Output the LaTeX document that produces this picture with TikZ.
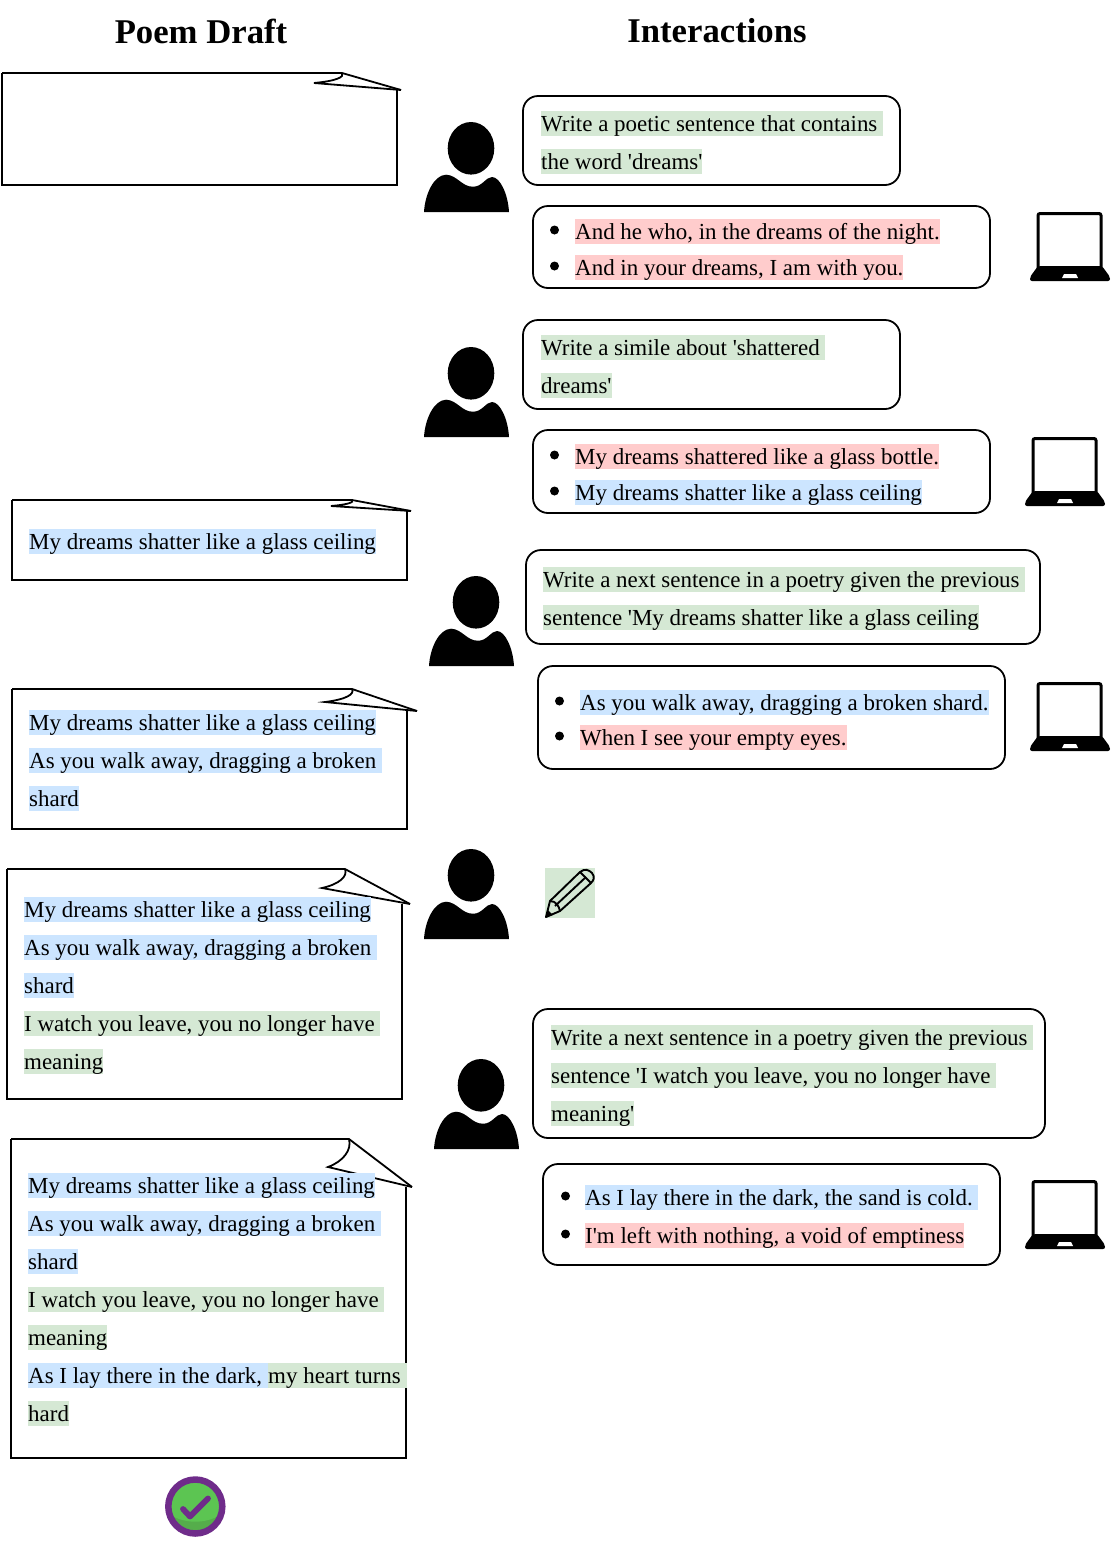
\documentclass[tikz,border=0pt]{standalone}
\usepackage{fontspec}
\setmainfont{Liberation Serif}[Ligatures=TeXOff]
\usepackage{tikz}
\definecolor{hlgreen}{HTML}{D5E8D4}
\definecolor{hlblue}{HTML}{CCE5FF}
\definecolor{hlred}{HTML}{FFCCCC}
\definecolor{tickpurple}{HTML}{6F2C8A}
\definecolor{ticklight}{HTML}{5CC552}
\definecolor{tickdark}{HTML}{55AD4B}
\tikzset{
  linetext/.style={anchor=base west,inner sep=0pt,text height=19.8pt,text depth=4.9pt,font=\fontsize{22.95}{23}\selectfont},
  greenline/.style={linetext,fill=hlgreen},
  blueline/.style={linetext,fill=hlblue},
  redline/.style={linetext,fill=hlred},
  heading/.style={font=\fontsize{34.7}{35}\selectfont\bfseries},
  bubble/.style={draw,line width=1.8pt,rounded corners=15pt},
  page/.style={draw,line width=1.8pt},
  person/.pic={
    \fill (47,26.3) ellipse [x radius=23.3,y radius=26.3];
    \fill (0,90) .. controls (1,72) and (10,53) .. (22,52.7)
      .. controls (33,53) and (38,65) .. (49,64.7)
      .. controls (58,65) and (62,55) .. (68,55)
      .. controls (76,55) and (84,72) .. (85,90) -- cycle;
  },
  laptop/.pic={
    \draw[line width=3pt,rounded corners=2pt] (8,56) -- (8,1.5) -- (71,1.5) -- (71,56);
    \fill[rounded corners=2pt] (8,54) -- (72,54) -- (80,65) -- (80,69) -- (0,69) -- (0,65) -- cycle;
    \fill[white] (34,62) -- (46,62) -- (48,66) -- (32,66) -- cycle;
  },
}
\newcommand{\draftbox}[9]{
  \draw[page] (#1,#2) -- (#5,#2) -- (#6,#7);
  \draw[page] (#3,#7) -- (#3,#4) -- (#1,#4) -- (#1,#2);
  \draw[line width=1.8pt] (#5,#2) .. controls (#5+3,{#2+(#9-#2)*0.4}) and (#5-6,{#2+(#9-#2)*0.8}) .. (#8,#9) -- (#6,#7);
}
\newcommand{\listdot}[2]{\fill (#1,#2) circle [radius=4.5];}
\newcommand{\tailspace}{\ \kern0pt}
\begin{document}
\begin{tikzpicture}[x=1pt,y=-1pt]
  \useasboundingbox (0,0) rectangle (1112,1545);

  \node[heading] (drafttitle) at (201,31) {Poem Draft};
  \node[heading] (talktitle) at (717,31) {Interactions};

  % draft pages
  \draftbox{2}{73}{397}{185}{342}{401}{90}{314}{83}
  \draftbox{12}{500}{407}{580}{352}{411}{511}{331}{506}
  \draftbox{12}{689}{407}{829}{352}{417}{711}{325}{702}
  \draftbox{7}{869}{402}{1099}{345}{410}{904}{322}{888}
  \draftbox{11}{1139}{406}{1458}{349}{412}{1187}{328}{1167}

  % speech boxes
  \draw[bubble] (523,96) rectangle (900,185);
  \draw[bubble] (533,206) rectangle (990,288);
  \draw[bubble] (523,320) rectangle (900,409);
  \draw[bubble] (533,430) rectangle (990,513);
  \draw[bubble] (526,550) rectangle (1040,644);
  \draw[bubble] (538,666) rectangle (1005,769);
  \draw[bubble] (533,1009) rectangle (1045,1138);
  \draw[bubble] (543,1164) rectangle (1000,1265);

  % people and laptops
  \pic at (424,122) {person};
  \pic at (424,347) {person};
  \pic at (429,576) {person};
  \pic at (424,849) {person};
  \pic at (434,1059) {person};
  \pic at (1030,212) {laptop};
  \pic at (1025,437) {laptop};
  \pic at (1030,682) {laptop};
  \pic at (1025,1180) {laptop};

  % first exchange
  \node[greenline] (ask1a) at (541,131) {Write a poetic sentence that contains\tailspace};
  \node[greenline] (ask1b) at (541,169) {the word 'dreams'};
  \listdot{554.5}{230}
  \node[redline] (say1a) at (575,239) {And he who, in the dreams of the night.};
  \listdot{554.5}{266}
  \node[redline] (say1b) at (575,275) {And in your dreams, I am with you.};

  % second exchange
  \node[greenline] (ask2a) at (541,355) {Write a simile about 'shattered\tailspace};
  \node[greenline] (ask2b) at (541,393) {dreams'};
  \listdot{554.5}{455}
  \node[redline] (say2a) at (575,464) {My dreams shattered like a glass bottle.};
  \listdot{554.5}{491}
  \node[blueline] (say2b) at (575,500) {My dreams shatter like a glass ceiling};

  % third exchange
  \node[greenline] (ask3a) at (543,587) {Write a next sentence in a poetry given the previous\tailspace};
  \node[greenline] (ask3b) at (543,625) {sentence 'My dreams shatter like a glass ceiling};
  \listdot{559.5}{701}
  \node[blueline] (say3a) at (580,710) {As you walk away, dragging a broken shard.};
  \listdot{559.5}{736}
  \node[redline] (say3b) at (580,745) {When I see your empty eyes.};

  % fourth exchange
  \node[greenline] (ask4a) at (551,1045) {Write a next sentence in a poetry given the previous\tailspace};
  \node[greenline] (ask4b) at (551,1083) {sentence 'I watch you leave, you no longer have\tailspace};
  \node[greenline] (ask4c) at (551,1121) {meaning'};
  \listdot{565.5}{1196}
  \node[blueline] (say4a) at (585,1205) {As I lay there in the dark, the sand is cold.\tailspace};
  \listdot{565.5}{1234}
  \node[redline] (say4b) at (585,1243) {I'm left with nothing, a void of emptiness};

  % draft texts
  \node[blueline] (one1) at (29,549) {My dreams shatter like a glass ceiling};

  \node[blueline] (two1) at (29,730) {My dreams shatter like a glass ceiling};
  \node[blueline] (two2) at (29,768) {As you walk away, dragging a broken\tailspace};
  \node[blueline] (two3) at (29,806) {shard};

  \node[blueline] (three1) at (24,917) {My dreams shatter like a glass ceiling};
  \node[blueline] (three2) at (24,955) {As you walk away, dragging a broken\tailspace};
  \node[blueline] (three3) at (24,993) {shard};
  \node[greenline] (three4) at (24,1031) {I watch you leave, you no longer have\tailspace};
  \node[greenline] (three5) at (24,1069) {meaning};

  \node[blueline] (four1) at (28,1193) {My dreams shatter like a glass ceiling};
  \node[blueline] (four2) at (28,1231) {As you walk away, dragging a broken\tailspace};
  \node[blueline] (four3) at (28,1269) {shard};
  \node[greenline] (four4) at (28,1307) {I watch you leave, you no longer have\tailspace};
  \node[greenline] (four5) at (28,1345) {meaning};
  \node[blueline] (four6) at (28,1383) {As I lay there in the dark,\tailspace};
  \node[greenline] (four7) at (four6.base east) {my heart turns\tailspace};
  \node[greenline] (four8) at (28,1421) {hard};

  % pencil
  \fill[hlgreen] (545,868) rectangle (595,918);
  \begin{scope}[shift={(545,868)},line width=1.9pt,line join=round]
    \draw (1,49) -- (5,33) -- (35,4) .. controls (40,0) and (44,2) .. (47,5)
      .. controls (50,9) and (49,12) .. (46,15) -- (15,43) -- cycle;
    \draw (5,33) .. controls (11,33) and (14,38) .. (15,43);
    \draw (10,38) -- (41,9);
    \draw (35,4) -- (46,15);
    \fill (1,49) -- (3,42) -- (8,47) -- cycle;
  \end{scope}

  % tick
  \begin{scope}
    \clip (195.3,1506.5) circle [radius=27];
    \fill[tickdark] (195.3,1506.5) circle [radius=27];
    \fill[ticklight] (195.3,1471.7) circle [radius=50];
  \end{scope}
  \draw[tickpurple,line width=6.5pt] (195.3,1506.5) circle [radius=27];
  \draw[tickpurple,line width=5.8pt,line cap=round,line join=round] (183,1509) -- (190,1516.5) -- (208,1498.5);
\end{tikzpicture}
\end{document}
